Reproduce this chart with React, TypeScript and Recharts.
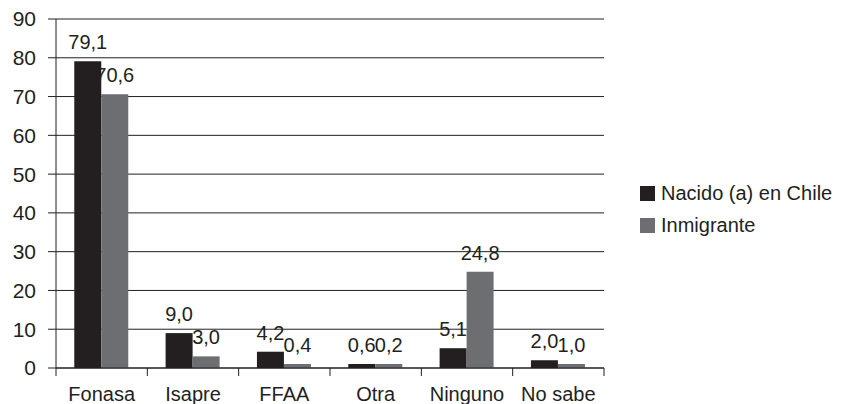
import React from 'react';
import { BarChart, Bar, XAxis, YAxis, CartesianGrid, Legend, LabelList } from 'recharts';

const categories = ['Fonasa', 'Isapre', 'FFAA', 'Otra', 'Ninguno', 'No sabe'];
const nacido = [79.1, 9.0, 4.2, 0.6, 5.1, 2.0];
const inmigrante = [70.6, 3.0, 0.4, 0.2, 24.8, 1.0];
const yTicks = [0, 10, 20, 30, 40, 50, 60, 70, 80, 90];
const seriesNames = ['Nacido (a) en Chile', 'Inmigrante'];

const data = categories.map((c, i) => ({ name: c, nacido: nacido[i], inmigrante: inmigrante[i] }));

const DARK = '#231f20';
const GRAY = '#6d6e71';
const FONT = '"Liberation Sans", Arial, sans-serif';

const fmt = (v: any) => Number(v).toFixed(1).replace('.', ',');

const XTick = (props: any) => {
  const { x, y, payload, index, visibleTicksCount, width } = props;
  const half = payload && payload.offset ? payload.offset : width / visibleTicksCount / 2;
  const last = index === visibleTicksCount - 1;
  return (
    <g>
      <line x1={x - half} x2={x - half} y1={y} y2={y + 8} stroke={DARK} strokeWidth={1} />
      {last && <line x1={x + half} x2={x + half} y1={y} y2={y + 8} stroke={DARK} strokeWidth={1} />}
      <text x={x} y={y + 33} textAnchor="middle" fill={DARK} fontSize={20} fontFamily={FONT}>
        {payload.value}
      </text>
    </g>
  );
};

const LegendContent = (props: any) => {
  const payload = [...(props.payload || [])].sort(
    (a: any, b: any) => seriesNames.indexOf(a.value) - seriesNames.indexOf(b.value)
  );
  return (
    <div style={{ fontFamily: FONT, fontSize: 20, color: DARK }}>
      {payload.map((p: any, i: number) => (
        <div key={i} style={{ display: 'flex', alignItems: 'center', height: 32 }}>
          <div style={{ width: 15, height: 15, background: p.color, marginRight: 6 }} />
          <span>{p.value}</span>
        </div>
      ))}
    </div>
  );
};

export default function App() {
  return (
    <div style={{ position: 'absolute', left: 0, top: 0, width: 842, height: 404, background: '#fff', fontFamily: FONT }}>
      <BarChart
        width={842}
        height={404}
        data={data}
        margin={{ top: 19, right: 38, bottom: 0, left: 0 }}
        barCategoryGap="20%"
        barGap={0}
      >
        <CartesianGrid vertical={false} stroke={DARK} strokeWidth={1} />
        <YAxis
          width={56}
          domain={[0, 90]}
          ticks={yTicks}
          interval={0}
          tickSize={8}
          tickMargin={12}
          axisLine={{ stroke: DARK }}
          tickLine={{ stroke: DARK }}
          tick={{ fill: DARK, fontSize: 21, fontFamily: FONT }}
        />
        <XAxis
          dataKey="name"
          height={36}
          interval={0}
          tickSize={0}
          tickMargin={0}
          tickLine={false}
          axisLine={{ stroke: DARK }}
          tick={<XTick />}
        />
        <Legend
          layout="vertical"
          align="right"
          verticalAlign="middle"
          content={<LegendContent />}
          wrapperStyle={{ position: 'absolute', left: 640, top: 177, width: 200, height: 64 }}
        />
        <Bar dataKey="nacido" name={seriesNames[0]} fill={DARK} minPointSize={4} isAnimationActive={false}>
          <LabelList dataKey="nacido" position="top" offset={12} formatter={fmt} fill={DARK} fontSize={20} fontFamily={FONT} />
        </Bar>
        <Bar dataKey="inmigrante" name={seriesNames[1]} fill={GRAY} minPointSize={4} isAnimationActive={false}>
          <LabelList dataKey="inmigrante" position="top" offset={12} formatter={fmt} fill={DARK} fontSize={20} fontFamily={FONT} />
        </Bar>
      </BarChart>
    </div>
  );
}
